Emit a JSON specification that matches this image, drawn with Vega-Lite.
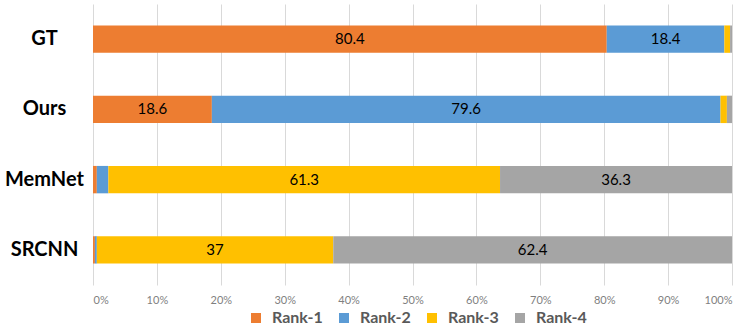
{
  "$schema": "https://vega.github.io/schema/vega-lite/v6.json",
  "width": 639,
  "height": 281,
  "autosize": "none",
  "padding": {"left": 93, "top": 4, "right": 16, "bottom": 42},
  "config": {"view": {"stroke": null}, "font": "Lato"},
  "data": {
    "values": [
      {"method": "GT", "rank": "Rank-1", "value": 80.4},
      {"method": "GT", "rank": "Rank-2", "value": 18.4},
      {"method": "GT", "rank": "Rank-3", "value": 0.9},
      {"method": "GT", "rank": "Rank-4", "value": 0.3},
      {"method": "Ours", "rank": "Rank-1", "value": 18.6},
      {"method": "Ours", "rank": "Rank-2", "value": 79.6},
      {"method": "Ours", "rank": "Rank-3", "value": 1.0},
      {"method": "Ours", "rank": "Rank-4", "value": 0.8},
      {"method": "MemNet", "rank": "Rank-1", "value": 0.6},
      {"method": "MemNet", "rank": "Rank-2", "value": 1.8},
      {"method": "MemNet", "rank": "Rank-3", "value": 61.3},
      {"method": "MemNet", "rank": "Rank-4", "value": 36.3},
      {"method": "SRCNN", "rank": "Rank-1", "value": 0.3},
      {"method": "SRCNN", "rank": "Rank-2", "value": 0.3},
      {"method": "SRCNN", "rank": "Rank-3", "value": 37},
      {"method": "SRCNN", "rank": "Rank-4", "value": 62.4}
    ]
  },
  "transform": [
    {"stack": "value", "groupby": ["method"], "sort": [{"field": "rank"}], "offset": "normalize", "as": ["x0", "x1"]},
    {"calculate": "(datum.x0 + datum.x1) / 2", "as": "xm"}
  ],
  "encoding": {
    "y": {
      "field": "method",
      "type": "nominal",
      "sort": null,
      "scale": {"paddingInner": 0.61, "paddingOuter": 0.305},
      "axis": {
        "title": null,
        "domain": false,
        "ticks": false,
        "tickSize": 0,
        "labelAlign": "center",
        "labelBaseline": "middle",
        "labelPadding": 49,
        "labelFontSize": 20,
        "labelFontWeight": "bold",
        "labelColor": "#000000",
        "labelFont": "Lato"
      }
    }
  },
  "layer": [
    {
      "mark": {"type": "bar"},
      "encoding": {
        "x": {
          "field": "x0",
          "type": "quantitative",
          "scale": {"domain": [0, 1], "nice": false},
          "axis": {
            "title": null,
            "values": [0, 0.1, 0.2, 0.3, 0.4, 0.5, 0.6, 0.7, 0.8, 0.9, 1],
            "format": ".0%",
            "domain": false,
            "ticks": false,
            "tickSize": 0,
            "grid": true,
            "gridColor": "#D9D9D9",
            "gridWidth": 1,
            "labelFontSize": 11,
            "labelColor": "#7F7F7F",
            "labelFont": "Lato",
            "labelPadding": 9
          }
        },
        "x2": {"field": "x1"},
        "color": {
          "field": "rank",
          "type": "nominal",
          "scale": {
            "domain": ["Rank-1", "Rank-2", "Rank-3", "Rank-4"],
            "range": ["#ED7D31", "#5B9BD5", "#FFC000", "#A5A5A5"]
          },
          "legend": {
            "title": null,
            "orient": "none",
            "legendX": 155,
            "legendY": 306,
            "direction": "horizontal",
            "padding": 0,
            "symbolType": "square",
            "symbolSize": 100,
            "symbolStrokeWidth": 0,
            "labelFontSize": 16,
            "labelFontWeight": "bold",
            "labelColor": "#595959",
            "labelFont": "Lato",
            "columnPadding": 13,
            "labelOffset": 8
          }
        }
      }
    },
    {
      "transform": [{"filter": "datum.value > 5"}],
      "mark": {"type": "text", "fontSize": 15, "color": "#000000", "font": "Lato"},
      "encoding": {
        "x": {"field": "xm", "type": "quantitative"},
        "text": {"field": "value", "type": "nominal"}
      }
    }
  ]
}
